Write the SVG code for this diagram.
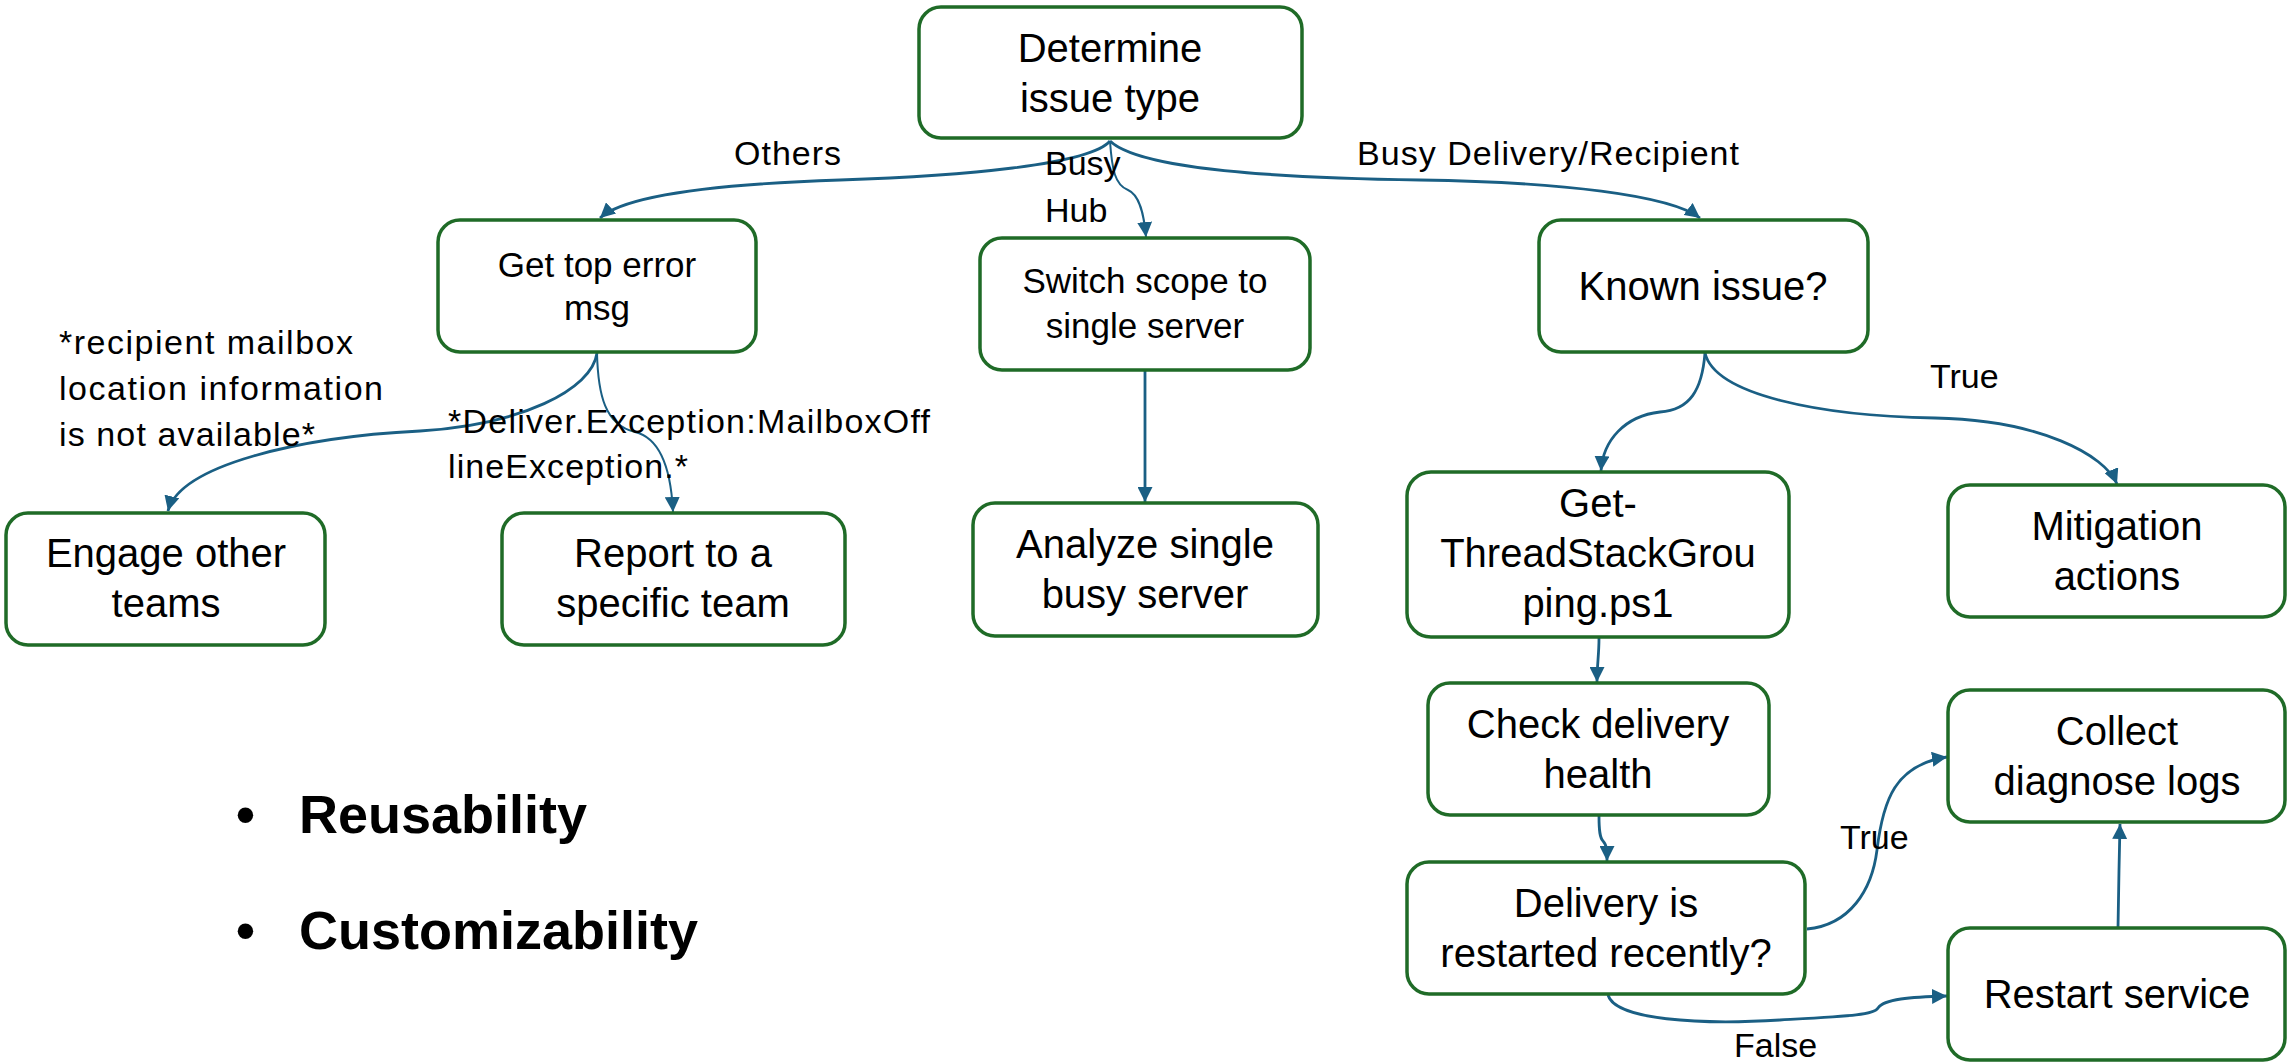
<svg xmlns="http://www.w3.org/2000/svg" width="2287" height="1062" viewBox="0 0 2287 1062">
<style>
.box{fill:#ffffff;stroke:#1f6b27;stroke-width:3.5}
.t{font-family:"Liberation Sans",Arial,sans-serif;font-size:40px;fill:#000;text-anchor:middle}
.ts{font-family:"Liberation Sans",Arial,sans-serif;font-size:35px;fill:#000;text-anchor:middle}
.lbl{font-family:"Liberation Sans",Arial,sans-serif;font-size:34px;fill:#000}
.big{font-family:"Liberation Sans",Arial,sans-serif;font-size:54px;font-weight:bold;fill:#000}
.e{fill:none;stroke:#1a5f84;stroke-width:2.8;marker-end:url(#ah)}
.ethin{fill:none;stroke:#1a5f84;stroke-width:2;marker-end:url(#ah)}
</style>
<defs>
<marker id="ah" viewBox="0 0 10 10" refX="10" refY="5" markerWidth="15" markerHeight="15" markerUnits="userSpaceOnUse" orient="auto">
<path d="M0,0 L10,5 L0,10 z" fill="#1a5f84"/>
</marker>
</defs>
<rect width="2287" height="1062" fill="#ffffff"/>
<g id="connectors">
<path class="e" d="M1110,141 C1090,165 960,176 840,180 C720,184 625,195 600,218"/>
<path class="ethin" d="M1110,141 C1112,170 1115,185 1128,190 C1140,195 1144,215 1146,237"/>
<path class="e" d="M1110,141 C1140,170 1280,178 1420,180 C1560,182 1670,195 1700,218"/>
<path class="e" d="M597,353 C592,390 520,425 420,431 C300,437 180,465 168,511"/>
<path class="ethin" d="M597,353 C598,395 605,425 635,432 C660,438 671,470 673,512"/>
<path class="e" d="M1145,371 L1145,502"/>
<path class="e" d="M1705,353 C1702,390 1690,410 1660,412 C1625,416 1603,440 1601,471"/>
<path class="e" d="M1705,353 C1715,395 1820,416 1935,418 C2040,420 2105,455 2117,484"/>
<path class="e" d="M1599,638 C1599,655 1597,665 1597,682"/>
<path class="e" d="M1599,816 C1599,832 1600,838 1603,841 C1607,845 1607,852 1607,861"/>
<path class="e" d="M1807,929 C1850,925 1872,890 1877,850 C1883,800 1895,765 1947,757"/>
<path class="e" d="M1608,995 C1615,1020 1700,1025 1780,1020 C1850,1016 1874,1015 1878,1008 C1884,999 1910,997 1947,996"/>
<path class="e" d="M2118,928 L2119,870 L2120,824"/>
</g>
<g id="edge-labels">
<text class="lbl" x="734" y="165" textLength="107">Others</text>
<text class="lbl" x="1045" y="175">Busy</text>
<text class="lbl" x="1045" y="222">Hub</text>
<text class="lbl" x="1357" y="165" textLength="382">Busy Delivery/Recipient</text>
<text class="lbl" x="1930" y="388">True</text>
<text class="lbl" x="59" y="354" textLength="294">*recipient mailbox</text>
<text class="lbl" x="59" y="400" textLength="324">location information</text>
<text class="lbl" x="59" y="446" textLength="256">is not available*</text>
<text class="lbl" x="448" y="433" textLength="482">*Deliver.Exception:MailboxOff</text>
<text class="lbl" x="448" y="478" textLength="240">lineException.*</text>
<text class="lbl" x="1840" y="849">True</text>
<text class="lbl" x="1734" y="1057">False</text>
</g>
<g id="n-determine"><rect class="box" x="919" y="7" width="383" height="131" rx="22"/><text class="t" x="1110" y="62">Determine</text><text class="t" x="1110" y="112">issue type</text></g>
<g id="n-get-top-error"><rect class="box" x="438" y="220" width="318" height="132" rx="22"/><text class="ts" x="597" y="277">Get top error</text><text class="ts" x="597" y="320">msg</text></g>
<g id="n-switch-scope"><rect class="box" x="980" y="238" width="330" height="132" rx="22"/><text class="ts" x="1145" y="293">Switch scope to</text><text class="ts" x="1145" y="338">single server</text></g>
<g id="n-known-issue"><rect class="box" x="1539" y="220" width="329" height="132" rx="22"/><text class="t" x="1703" y="300">Known issue?</text></g>
<g id="n-engage"><rect class="box" x="6" y="513" width="319" height="132" rx="22"/><text class="t" x="166" y="567">Engage other</text><text class="t" x="166" y="617">teams</text></g>
<g id="n-report"><rect class="box" x="502" y="513" width="343" height="132" rx="22"/><text class="t" x="673" y="567">Report to a</text><text class="t" x="673" y="617">specific team</text></g>
<g id="n-analyze"><rect class="box" x="973" y="503" width="345" height="133" rx="22"/><text class="t" x="1145" y="558">Analyze single</text><text class="t" x="1145" y="608">busy server</text></g>
<g id="n-threadstack"><rect class="box" x="1407" y="472" width="382" height="165" rx="24"/><text class="t" x="1598" y="517">Get-</text><text class="t" x="1598" y="567">ThreadStackGrou</text><text class="t" x="1598" y="617">ping.ps1</text></g>
<g id="n-mitigation"><rect class="box" x="1948" y="485" width="337" height="132" rx="22"/><text class="t" x="2117" y="540">Mitigation</text><text class="t" x="2117" y="590">actions</text></g>
<g id="n-check-health"><rect class="box" x="1428" y="683" width="341" height="132" rx="22"/><text class="t" x="1598" y="738">Check delivery</text><text class="t" x="1598" y="788">health</text></g>
<g id="n-restarted"><rect class="box" x="1407" y="862" width="398" height="132" rx="22"/><text class="t" x="1606" y="917">Delivery is</text><text class="t" x="1606" y="967">restarted recently?</text></g>
<g id="n-collect"><rect class="box" x="1948" y="690" width="337" height="132" rx="22"/><text class="t" x="2117" y="745">Collect</text><text class="t" x="2117" y="795">diagnose logs</text></g>
<g id="n-restart-service"><rect class="box" x="1948" y="928" width="337" height="132" rx="22"/><text class="t" x="2117" y="1008">Restart service</text></g>
<g id="bullets">
<text class="big" x="236" y="833">•</text><text class="big" x="299" y="833">Reusability</text>
<text class="big" x="236" y="949">•</text><text class="big" x="299" y="949">Customizability</text>
</g>
</svg>
